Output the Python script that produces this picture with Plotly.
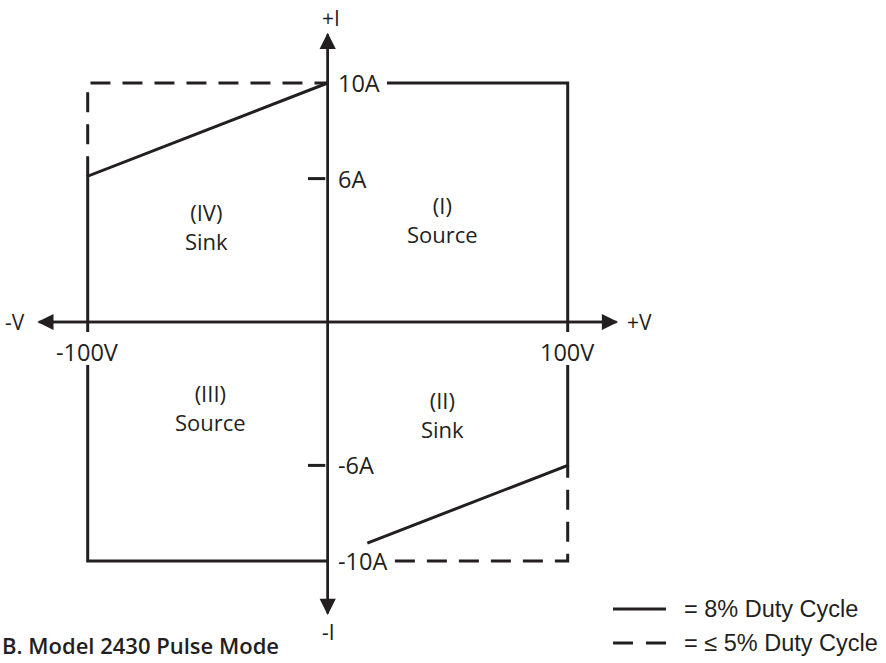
import plotly.graph_objects as go

# ────────────────────────── Data ──────────────────────────
# 8% duty cycle boundary (solid), volts / amps, None breaks the path
# (the +-100 V edges are broken where the voltage labels sit)
solid_v = [0, -100, -100, None, -100, -100, 0, None,
           24.7, 100, 100, None, 100, 100, 16.5]
solid_i = [-10, -10, -1.8, None, -0.42, 6.1, 10, None,
           10, 10, -0.42, None, -1.8, -6, -9.25]

# <= 5% duty cycle extension (dashed)
dashed_v = [-100, -100, 0, None, 28, 100, 100]
dashed_i = [6.1, 10, 10, None, -10, -10, -6]

# axis ticks / labels
v_ticks = [-100, 100]
v_tick_labels = ["-100V", "100V"]
i_ticks = [10, 6, -6, -10]
i_tick_labels = ["10A", "6A", "-6A", "-10A"]
i_marks = [6, -6]  # short tick marks drawn on the I axis

# quadrant captions
quad_names = ["(I)", "(II)", "(III)", "(IV)"]
quad_roles = ["Source", "Sink", "Source", "Sink"]
quad_v = [48, 48, -49, -50.3]
quad_i = [4.27, -3.85, -3.56, 4.0]

legend_labels = ["= 8% Duty Cycle", "= \u2264 5% Duty Cycle"]
title_text = "B. Model 2430 Pulse Mode"

# ────────────────────────── Style ─────────────────────────
W, H = 886, 663
INK = "#231f20"
FONT = "Open Sans"
LW = 3
DASH = "20px,12px"

# pixel mapping: x = 327.7 + 2.4*V ; y = 322 - 23.9*I
X0, SX = 327.7, 2.4
Y0, SY = 322.0, 23.9
x_range = [-X0 / SX, (W - X0) / SX]
y_range = [-(H - Y0) / SY, Y0 / SY]

fig = go.Figure()

fig.add_trace(go.Scatter(
    x=solid_v, y=solid_i, mode="lines",
    line=dict(color=INK, width=LW), showlegend=False, hoverinfo="skip",
))
fig.add_trace(go.Scatter(
    x=dashed_v, y=dashed_i, mode="lines",
    line=dict(color=INK, width=LW, dash=DASH), showlegend=False, hoverinfo="skip",
))

# tick marks on I axis
for iv in i_marks:
    fig.add_shape(type="line", x0=-8.2, x1=-1.0, y0=iv, y1=iv,
                  line=dict(color=INK, width=LW))

# axes with arrowheads (each arrow spans the full axis so the crossing stays solid)
axis_arrows = [(121, 0, -121, 0), (-121, 0, 121, 0),
               (0, 12.1, 0, -12.26), (0, -12.26, 0, 12.1)]
for tx, ty, sx, sy in axis_arrows:
    fig.add_annotation(
        x=tx, y=ty, ax=sx, ay=sy, axref="x", ayref="y", xref="x", yref="y",
        text="", showarrow=True, arrowhead=2, arrowsize=1.35,
        arrowwidth=2.4, arrowcolor=INK, standoff=0,
    )

end_font = dict(size=21, color=INK, family=FONT)
tick_font = dict(size=23.5, color=INK, family=FONT)
quad_font = dict(size=22, color=INK, family=FONT)

# axis end labels
for txt, x, y in [("+I", 1.2, 12.72), ("-I", 0.5, -12.97),
                  ("-V", -130.3, 0), ("+V", 130.1, 0)]:
    fig.add_annotation(x=x, y=y, text=txt, showarrow=False, font=end_font)

for v, t in zip(v_ticks, v_tick_labels):
    fig.add_annotation(x=v, y=-1.26, text=t, showarrow=False, font=tick_font)

for i, t in zip(i_ticks, i_tick_labels):
    fig.add_annotation(x=3.6, y=i, text=t, showarrow=False, xanchor="left", font=tick_font)

# quadrant captions
for name, role, v, i in zip(quad_names, quad_roles, quad_v, quad_i):
    fig.add_annotation(x=v, y=i, text=name + "<br>" + role, showarrow=False,
                       font=quad_font)

# legend samples (paper coords)
def px(x, y):
    return x / W, 1 - y / H

for k, (lab, ypx) in enumerate(zip(legend_labels, [609, 643])):
    xa, ya = px(613, ypx)
    xb, _ = px(666, ypx)
    fig.add_shape(type="line", xref="paper", yref="paper",
                  x0=xa, x1=xb, y0=ya, y1=ya,
                  line=dict(color=INK, width=LW, dash=None if k == 0 else "20px,13px"))
    tx, ty = px(682, ypx)
    fig.add_annotation(xref="paper", yref="paper", x=tx, y=ty, text=lab,
                       showarrow=False, xanchor="left", yanchor="middle",
                       font=dict(size=23.5, color=INK, family="Liberation Sans"))

tx, ty = px(0, 645)
fig.add_annotation(xref="paper", yref="paper", x=tx, y=ty,
                   text=title_text, showarrow=False, xanchor="left", yanchor="middle",
                   font=dict(size=22, color=INK, family=FONT, weight=600))

fig.update_xaxes(range=x_range, visible=False, fixedrange=True)
fig.update_yaxes(range=y_range, visible=False, fixedrange=True)
fig.update_layout(
    width=W, height=H,
    margin=dict(l=0, r=0, t=0, b=0),
    plot_bgcolor="white", paper_bgcolor="white",
    showlegend=False,
)

fig.write_html("out.html", config={"displayModeBar": False},
               post_script="document.body.style.margin='0';")
